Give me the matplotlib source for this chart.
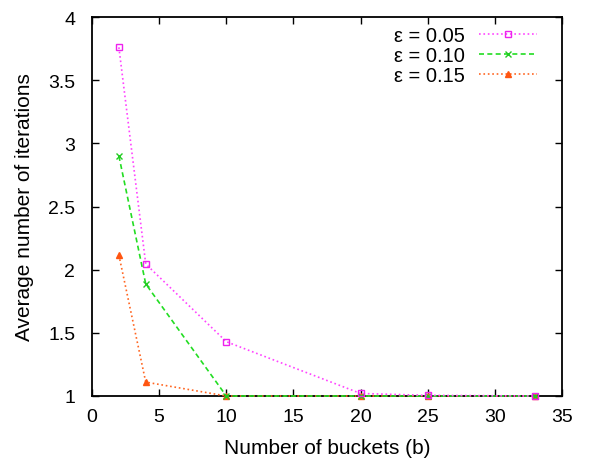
import matplotlib
matplotlib.use("Agg")
import matplotlib.pyplot as plt

plt.rcParams['font.family'] = ['Liberation Sans', 'DejaVu Sans']

# buckets and average iterations
buckets = [2, 4, 10, 20, 25, 33]
eps_005 = [3.76, 2.045, 1.43, 1.02, 1.005, 1.0]
eps_010 = [2.90, 1.887, 1.0, 1.0, 1.0, 1.0]
eps_015 = [2.116, 1.11, 1.0, 1.0, 1.0, 1.0]

fig = plt.figure(figsize=(5.91, 4.64), dpi=100)
ax = fig.add_axes([0.1557, 0.1444, 0.7953, 0.8168])

ax.plot(buckets, eps_015, color='#ff6622', linestyle=':', linewidth=1.2,
        marker='^', markersize=5, markerfacecolor='#ff5511',
        markeredgecolor='#ff5511', label='ε = 0.15', clip_on=False, zorder=3)
ax.plot(buckets, eps_010, color='#22dd22', linestyle='--', linewidth=1.2,
        dashes=(3, 2), marker='x', markersize=5, markeredgecolor='#22cc22',
        label='ε = 0.10', clip_on=False, zorder=3)
ax.plot(buckets, eps_005, color='#ff44ff', linestyle=':', linewidth=1.2,
        marker='s', markerfacecolor='none', markeredgecolor='#ee22ee',
        markersize=5, label='ε = 0.05', clip_on=False, zorder=3)

ax.set_xlim(0, 35)
ax.set_ylim(1, 4)
ax.set_xticks(range(0, 36, 5))
ax.set_yticks([1, 1.5, 2, 2.5, 3, 3.5, 4])
ax.set_yticklabels(['1', '1.5', '2', '2.5', '3', '3.5', '4'])
ax.tick_params(direction='in', top=True, right=True, length=5,
               labelsize=14, width=1)
ax.tick_params(axis='y', pad=12)
ax.tick_params(axis='x', pad=9)
for s in ax.spines.values():
    s.set_linewidth(1.3)

ax.set_xlabel('Number of buckets (b)', fontsize=15, labelpad=9)
ax.set_ylabel('Average number of iterations', fontsize=15, labelpad=10)

handles, labels = ax.get_legend_handles_labels()
ax.legend(handles[::-1], labels[::-1], loc='upper right',
          bbox_to_anchor=(1 - 25 / 470, 1 - 9 / 379), frameon=False,
          markerfirst=False, fontsize=14.5, handlelength=2.9,
          labelspacing=0.05, borderaxespad=0, borderpad=0,
          handletextpad=0.7)

fig.savefig('out.png', dpi=100)
